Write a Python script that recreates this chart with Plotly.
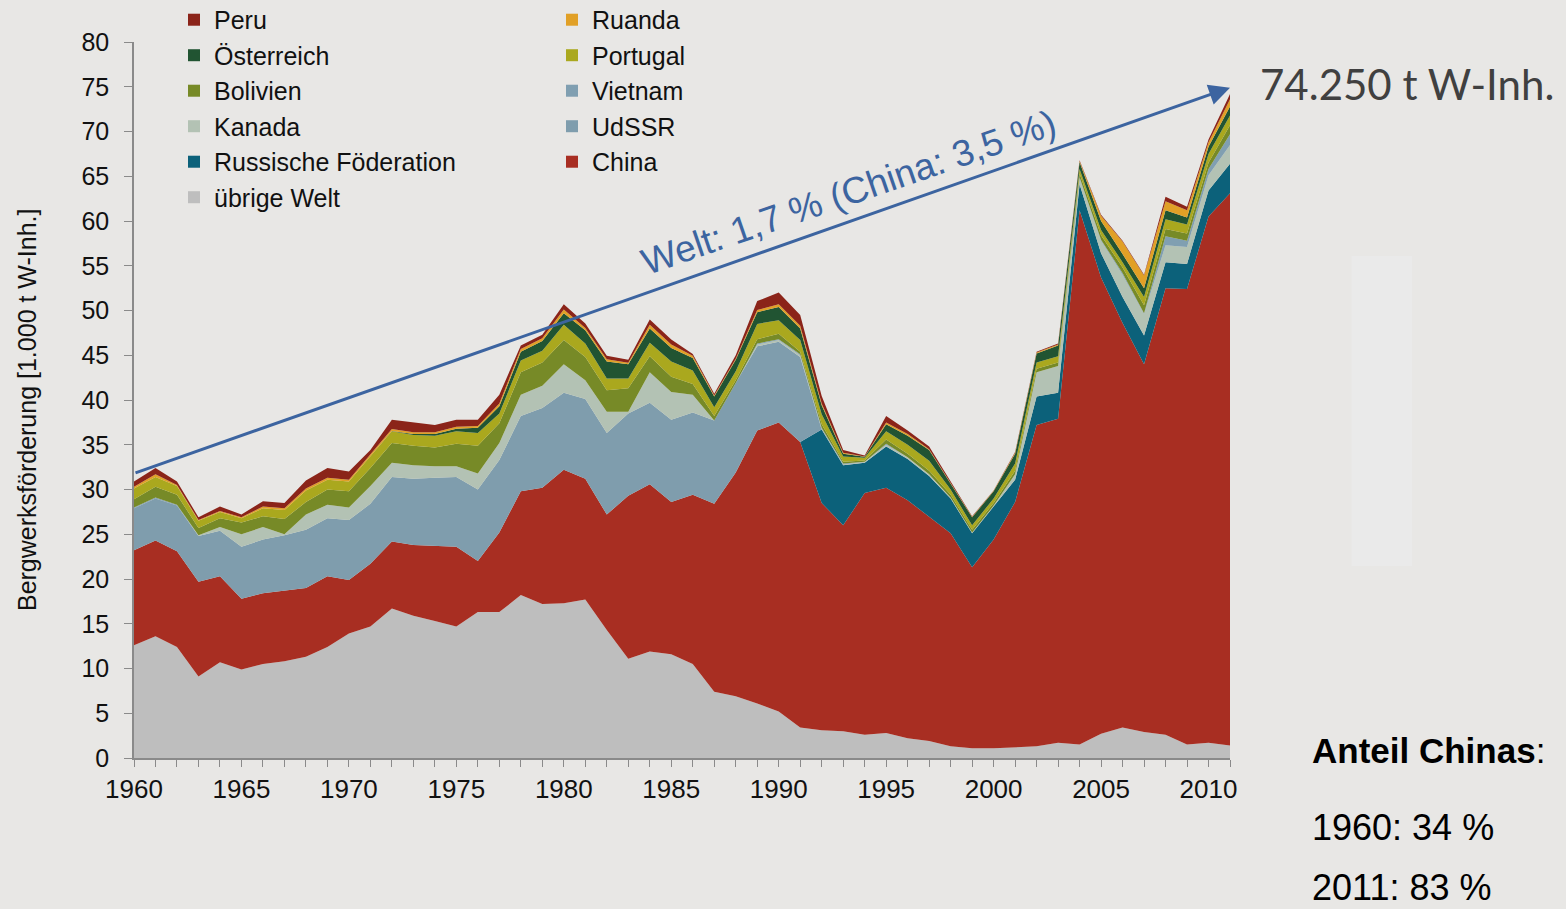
import plotly.graph_objects as go

# Wolfram-Bergwerksförderung 1960-2011 [1.000 t W-Inh.]
years = list(range(1960, 2012))

uebrige_welt = [12.6, 13.6, 12.4, 9.1, 10.7, 9.9, 10.5, 10.8, 11.3, 12.4,
                13.9, 14.7, 16.7, 15.9, 15.3, 14.7, 16.3, 16.3, 18.2, 17.2,
                17.3, 17.7, 14.3, 11.1, 11.9, 11.6, 10.5, 7.4, 6.9, 6.1,
                5.2, 3.4, 3.1, 3.0, 2.6, 2.8, 2.2, 1.9, 1.3, 1.1,
                1.1, 1.2, 1.3, 1.7, 1.5, 2.7, 3.4, 2.9, 2.6, 1.5,
                1.7, 1.4]
china = [10.6, 10.7, 10.7, 10.6, 9.6, 7.9, 7.9, 7.9, 7.7, 7.9,
         6.0, 7.0, 7.5, 7.9, 8.4, 8.9, 5.7, 8.9, 11.6, 13.0,
         14.9, 13.5, 12.9, 18.2, 18.7, 17.0, 18.9, 21.0, 25.0, 30.5,
         32.3, 31.9, 25.4, 23.0, 27.0, 27.4, 26.6, 25.1, 23.8, 20.2,
         23.3, 27.4, 35.9, 36.2, 59.7, 51.0, 45.2, 41.1, 49.9, 50.9,
         58.8, 61.7]
russ_foed = [0, 0, 0, 0, 0, 0, 0, 0, 0, 0,
             0, 0, 0, 0, 0, 0, 0, 0, 0, 0,
             0, 0, 0, 0, 0, 0, 0, 0, 0, 0,
             0, 0, 8.2, 6.7, 3.4, 4.6, 4.6, 4.5, 3.9, 3.8,
             3.7, 2.5, 3.2, 2.9, 2.9, 2.7, 2.9, 3.2, 2.9, 2.8,
             2.9, 3.3]
udssr = [4.7, 4.7, 5.1, 5.1, 5.1, 5.8, 6.0, 6.2, 6.5, 6.5,
         6.7, 6.7, 7.2, 7.4, 7.6, 7.8, 8.0, 8.1, 8.4, 8.9,
         8.6, 8.9, 9.1, 9.2, 9.1, 9.2, 9.2, 9.3, 10.0, 9.4,
         9.0, 9.5, 0, 0, 0, 0, 0, 0, 0, 0,
         0, 0, 0, 0, 0, 0, 0, 0, 0, 0,
         0, 0]
kanada = [0, 0, 0, 0.1, 0.4, 1.4, 1.4, 0.1, 1.7, 1.5,
          1.4, 2.0, 1.6, 1.5, 1.3, 1.2, 1.8, 1.9, 2.4, 2.5,
          3.2, 2.1, 2.4, 0.2, 3.4, 3.1, 2.0, 0, 0, 0.2,
          0.2, 0.2, 0.1, 0.1, 0.1, 0.2, 0.2, 0.2, 0.1, 0.1,
          0.1, 0.6, 2.7, 3.0, 0.7, 1.4, 2.5, 2.4, 1.9, 1.9,
          1.7, 2.1]
vietnam = [0.1, 0.1, 0.1, 0, 0, 0, 0, 0, 0, 0,
           0, 0, 0, 0, 0, 0, 0, 0, 0, 0,
           0, 0, 0, 0, 0, 0, 0, 0, 0, 0.1,
           0.1, 0.1, 0.1, 0.1, 0, 0.1, 0, 0, 0, 0,
           0, 0, 0, 0, 0.1, 0.1, 0.2, 0.1, 1.0, 0.7,
           0.7, 1.2]
bolivien = [0.9, 1.2, 1.1, 0.8, 1.0, 1.3, 1.2, 1.7, 1.4, 1.7,
            1.8, 2.0, 2.2, 2.2, 2.1, 2.5, 3.1, 2.2, 2.5, 2.6,
            2.7, 2.6, 2.4, 2.6, 1.8, 1.7, 1.2, 0.5, 0.3, 0.5,
            0.6, 0.3, 0.4, 0.2, 0.15, 0.5, 0.4, 0.4, 0.3, 0.3,
            0.3, 0.4, 0.4, 0.4, 0.4, 0.5, 0.6, 0.9, 0.8, 0.8,
            0.7, 1.0]
portugal = [1.2, 1.1, 1.0, 0.8, 0.7, 0.5, 0.9, 1.0, 1.3, 1.1,
            1.1, 1.3, 1.3, 1.2, 1.3, 1.4, 1.4, 1.1, 1.3, 1.3,
            1.7, 1.5, 1.3, 1.1, 1.5, 1.7, 1.5, 1.0, 1.0, 1.7,
            1.5, 1.3, 1.1, 0.6, 0.3, 0.9, 1.0, 1.1, 0.6, 0.5,
            0.5, 0.8, 0.7, 0.7, 0.5, 0.6, 0.6, 0.9, 1.1, 1.0,
            1.0, 1.1]
oesterreich = [0, 0, 0, 0, 0, 0, 0, 0, 0, 0,
               0, 0, 0.05, 0.1, 0.2, 0.3, 0.6, 0.8, 1.0, 1.1,
               1.3, 1.5, 1.9, 1.6, 1.6, 1.5, 1.4, 1.2, 1.3, 1.3,
               1.5, 1.3, 1.0, 0.3, 0.1, 0.8, 1.0, 1.2, 0.7, 0.9,
               0.8, 1.1, 1.0, 1.2, 0.8, 1.0, 0.9, 1.0, 1.0, 0.8,
               0.8, 1.0]
ruanda = [0.2, 0.3, 0.1, 0.1, 0.1, 0.1, 0.2, 0.2, 0.2, 0.2,
          0.2, 0.2, 0.2, 0.2, 0.2, 0.2, 0.2, 0.3, 0.3, 0.3,
          0.4, 0.25, 0.25, 0.15, 0.4, 0.4, 0.25, 0.1, 0.1, 0.25,
          0.3, 0.3, 0.2, 0.1, 0.05, 0.2, 0.2, 0.1, 0.1, 0.05,
          0.05, 0.1, 0.1, 0.1, 0.1, 0.6, 1.4, 1.4, 1.0, 0.8,
          0.5, 0.8]
peru = [0.6, 0.7, 0.4, 0.3, 0.5, 0.3, 0.6, 0.6, 0.9, 1.1,
        0.9, 0.5, 1.05, 1.1, 0.8, 0.8, 0.7, 1.0, 0.4, 0.4,
        0.6, 0.5, 0.4, 0.35, 0.6, 0.55, 0.2, 0.2, 0.4, 1.0,
        1.3, 1.2, 0.85, 0.3, 0.1, 0.7, 0.4, 0.3, 0.1, 0.05,
        0.05, 0.1, 0.1, 0.1, 0.1, 0.1, 0.1, 0.1, 0.5, 0.4,
        0.3, 0.6]

colors = {
    "übrige Welt": "#BEBEBE",
    "China": "#A82E22",
    "Russische Föderation": "#0C617A",
    "UdSSR": "#7F9DAD",
    "Kanada": "#B3C2B4",
    "Vietnam": "#809FB1",
    "Bolivien": "#778A27",
    "Portugal": "#AAA81E",
    "Österreich": "#215432",
    "Ruanda": "#E1A026",
    "Peru": "#8B2419",
}

# stacking order, bottom to top
stack = [("übrige Welt", uebrige_welt), ("China", china),
         ("Russische Föderation", russ_foed), ("UdSSR", udssr),
         ("Kanada", kanada), ("Vietnam", vietnam), ("Bolivien", bolivien),
         ("Portugal", portugal), ("Österreich", oesterreich),
         ("Ruanda", ruanda), ("Peru", peru)]

legend_left = ["Peru", "Österreich", "Bolivien", "Kanada",
               "Russische Föderation", "übrige Welt"]
legend_right = ["Ruanda", "Portugal", "Vietnam", "UdSSR", "China"]

BG = "#E8E7E5"
AXC = "#8A8A8A"
FONT = "Liberation Sans, Arial, sans-serif"

fig = go.Figure()
for name, vals in stack:
    fig.add_trace(go.Scatter(x=years, y=vals, name=name, stackgroup="welt",
                             mode="lines", line=dict(width=0, color=colors[name]),
                             fillcolor=colors[name], showlegend=False))

for lg, names in (("legend", legend_left), ("legend2", legend_right)):
    for name in names:
        fig.add_trace(go.Scatter(x=[None], y=[None], mode="markers", name=name,
                                 marker=dict(symbol="square", size=12, color=colors[name]),
                                 legend=lg))

leg = dict(xanchor="left", yanchor="top", y=1.004, bgcolor="rgba(0,0,0,0)",
           font=dict(family=FONT, size=25, color="#111111"), traceorder="normal")

# paper spans y pixel 0..758, the y axis only the lower part (42..758)
fig.update_layout(
    width=1566, height=909,
    paper_bgcolor=BG, plot_bgcolor=BG,
    margin=dict(l=134, r=336, t=0, b=151, autoexpand=False),
    legend=dict(leg, x=0.0365),
    legend2=dict(leg, x=0.3814),
    xaxis=dict(range=[1960, 2011], dtick=5, tick0=1960, showgrid=False, zeroline=False,
               showline=True, linecolor=AXC, linewidth=1.5,
               ticks="outside", ticklen=7, tickcolor=AXC,
               minor=dict(dtick=1, ticks="outside", ticklen=7, tickcolor=AXC),
               tickfont=dict(family=FONT, size=26, color="#111111")),
    yaxis=dict(range=[0, 80], dtick=5, showgrid=False, zeroline=False,
               domain=[0, 716 / 758],
               showline=True, linecolor=AXC, linewidth=1.5,
               ticks="outside", ticklen=8, tickcolor=AXC, ticklabelstandoff=10,
               tickfont=dict(family=FONT, size=25, color="#111111")),
)

# growth arrow 1960 -> 2011 with label
fig.add_annotation(x=2011, y=74.9, ax=1960, ay=31.8, xref="x", yref="y",
                   axref="x", ayref="y", text="", showarrow=True,
                   arrowhead=2, arrowsize=1.4, arrowwidth=3, arrowcolor="#3C64A0")
fig.add_annotation(x=1993.26, y=63.2, xref="x", yref="y", showarrow=False,
                   text="Welt: 1,7 % (China: 3,5 %)", textangle=-19,
                   xanchor="center", yanchor="middle",
                   font=dict(family=FONT, size=37, color="#3C64A0"))

fig.add_annotation(x=-0.0976, y=0.4591, xref="paper", yref="paper", showarrow=False,
                   xanchor="center", yanchor="middle",
                   text="Bergwerksförderung [1.000 t W-Inh.]", textangle=-90,
                   font=dict(family=FONT, size=25, color="#111111"))

fig.add_annotation(x=1.0255, y=0.8892, xref="paper", yref="paper", showarrow=False,
                   xanchor="left", yanchor="middle", text="74.250 t W-Inh.",
                   font=dict(family="Lato, Open Sans, sans-serif", size=42, color="#404040"))
fig.add_annotation(x=1.073, y=0.01055, xref="paper", yref="paper", showarrow=False,
                   xanchor="left", yanchor="middle", text="<b>Anteil Chinas</b>:",
                   font=dict(family=FONT, size=35, color="#000000"))
fig.add_annotation(x=1.073, y=-0.0923, xref="paper", yref="paper", showarrow=False,
                   xanchor="left", yanchor="middle", text="1960: 34 %",
                   font=dict(family=FONT, size=36, color="#000000"))
fig.add_annotation(x=1.073, y=-0.1702, xref="paper", yref="paper", showarrow=False,
                   xanchor="left", yanchor="middle", text="2011: 83 %",
                   font=dict(family=FONT, size=36, color="#000000"))

# faint light panel on the right
fig.add_shape(type="rect", xref="paper", yref="paper", x0=1.111, x1=1.166,
              y0=0.2533, y1=0.6623, fillcolor="#EAEAEA", line=dict(width=0), layer="below")

fig.write_html("out.html", config={"displayModeBar": False},
               post_script="document.body.style.margin='0';")
